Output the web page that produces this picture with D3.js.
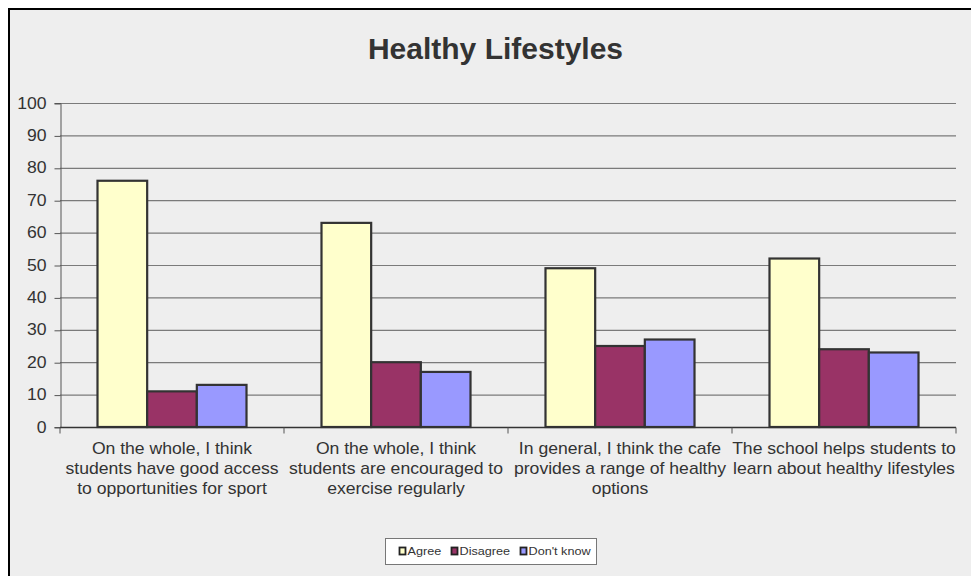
<!DOCTYPE html>
<html><head><meta charset="utf-8">
<script src="https://cdn.jsdelivr.net/npm/d3@7"></script>
<style>body{margin:0;background:#fff;} svg{display:block;}</style>
</head><body>
<svg id="c" width="971" height="576"></svg>
<script>
const categories = [
  ["On the whole, I think","students have good access","to opportunities for sport"],
  ["On the whole, I think","students are encouraged to","exercise regularly"],
  ["In general, I think the cafe","provides a range of healthy","options"],
  ["The school helps students to","learn about healthy lifestyles"]
];
const seriesNames = ["Agree","Disagree","Don't know"];
const agree = [76, 63, 49, 52];
const disagree = [11, 20, 25, 24];
const dontKnow = [13, 17, 27, 23];
const yTicks = [0,10,20,30,40,50,60,70,80,90,100];
const colors = ["#FFFFCC","#993366","#9999FF"];
const series = [agree, disagree, dontKnow];

const svg = d3.select("#c");
const font = "Liberation Sans, Arial, sans-serif";
svg.append("rect").attr("x",9).attr("y",9).attr("width",980).attr("height",580)
  .attr("fill","#EEEEEE").attr("stroke","#000").attr("stroke-width",2);

svg.append("text").attr("x",495.5).attr("y",59).attr("text-anchor","middle")
  .attr("font-family",font).attr("font-weight","bold").attr("font-size",30)
  .attr("fill","#333").text("Healthy Lifestyles");

const L=60, R=956, T=103, B=427;
const x0 = d3.scaleBand().domain(d3.range(categories.length)).range([L,R]).paddingInner(0).paddingOuter(0);
const x1 = d3.scaleBand().domain(d3.range(seriesNames.length)).range([0,x0.bandwidth()]).paddingInner(0).paddingOuter(75/2/49.67);
const y = d3.scaleLinear().domain([0,100]).range([B,T]);

// gridlines
svg.append("g").selectAll("line").data(yTicks.filter(d=>d>0)).join("line")
  .attr("x1",L).attr("x2",R).attr("y1",d=>y(d)+0.5).attr("y2",d=>y(d)+0.5)
  .attr("stroke","#7a7a7a").attr("stroke-width",1.2);

// y axis
const ya = svg.append("g").attr("transform",`translate(${L+0.5},0)`)
  .call(d3.axisLeft(y).tickValues(yTicks).tickSize(6).tickPadding(8));
ya.select(".domain").attr("stroke","#555").attr("stroke-width",1);
ya.selectAll(".tick line").attr("stroke","#555").attr("transform","translate(0,0.5)");
ya.selectAll("text").attr("font-family",font).attr("font-size",16).attr("fill","#333")
  .attr("transform","scale(1.1,1)").attr("x",-14/1.1).attr("dx",0);

// bars
const groups = svg.append("g").selectAll("g").data(categories).join("g")
  .attr("transform",(d,i)=>`translate(${x0(i)},0)`);
groups.selectAll("rect").data((d,i)=>series.map((s,j)=>({j,v:s[i]}))).join("rect")
  .attr("x",d=>x1(d.j)).attr("width",x1.bandwidth())
  .attr("y",d=>y(d.v)).attr("height",d=>B-y(d.v))
  .attr("fill",d=>colors[d.j]).attr("stroke","#333").attr("stroke-width",2.2);

// x axis
const xa = svg.append("g").attr("transform",`translate(0,${B+0.5})`);
xa.append("line").attr("x1",L).attr("x2",R).attr("stroke","#333").attr("stroke-width",1.5);
xa.selectAll("line.t").data(d3.range(categories.length+1)).join("line").attr("class","t")
  .attr("x1",i=>L+i*x0.bandwidth()).attr("x2",i=>L+i*x0.bandwidth()).attr("y1",0).attr("y2",6)
  .attr("stroke","#555");
const lab = xa.selectAll("text").data(categories).join("text")
  .attr("text-anchor","middle").attr("font-family",font).attr("font-size",16).attr("fill","#333")
  .attr("transform",(d,i)=>`translate(${x0(i)+x0.bandwidth()/2},0) scale(1.1,1)`);
lab.selectAll("tspan").data(d=>d).join("tspan").attr("x",0).attr("y",(d,k)=>27+k*20).text(d=>d);

// legend
const lg = svg.append("g");
lg.append("rect").attr("x",385.5).attr("y",538.5).attr("width",211).attr("height",26)
  .attr("fill","#fff").attr("stroke","#777").attr("stroke-width",1);
const lx = [399,451,520];
seriesNames.forEach((n,j)=>{
  lg.append("rect").attr("x",lx[j]+0.5).attr("y",547.5).attr("width",6).attr("height",7)
    .attr("fill",colors[j]).attr("stroke","#222").attr("stroke-width",1.8);
  lg.append("text").attr("transform",`translate(${lx[j]+8.5},555) scale(1.1,1)`)
    .attr("font-family",font).attr("font-size",11.5)
    .attr("fill","#333").text(n);
});
</script>
</body></html>
